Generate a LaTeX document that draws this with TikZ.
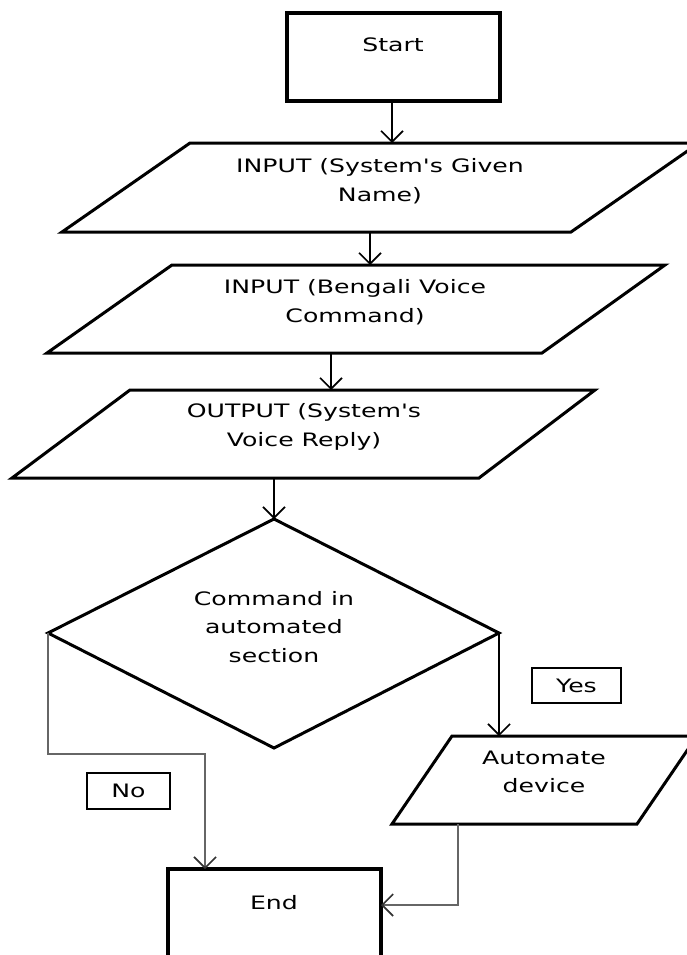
\documentclass[tikz,border=0pt]{standalone}
\usepackage{fontspec}
\setmainfont{DejaVu Sans}[FakeStretch=1.36, Ligatures=TeXOff]
\usetikzlibrary{arrows.meta}
\begin{document}
\begin{tikzpicture}[x=1pt,y=-1pt,
  shapeline/.style={draw=black, line width=3pt, line join=miter},
  termline/.style={draw=black, line width=4pt},
  flow/.style={draw=black, line width=1.9pt,
    -{Straight Barb[length=11pt,width=22pt,line width=1.6pt]}},
  branch/.style={draw=black!60, line width=2.5pt,
    -{Straight Barb[length=11pt,width=22pt,line width=1.6pt,black!80]}},
  lbl/.style={font=\fontsize{18.5}{28.5}\selectfont, align=center,
    inner sep=0pt, text=black},
  tagbox/.style={draw=black, line width=2pt, inner sep=0pt,
    font=\fontsize{18.5}{28.5}\selectfont}
]
\useasboundingbox (0,0) rectangle (687,955);
\clip (0,0) rectangle (687,955);

% Start terminal
\draw[termline] (287,13) rectangle (500,101);
\node[lbl] (start) at (393,45) {Start};
\coordinate (startout) at (392,101);

% Input: system name
\coordinate (p1in) at (392,143);
\draw[shapeline] (190,143) -- (699,143) -- (571,232) -- (62,232) -- cycle;
\node[lbl] (name) at (380,181) {INPUT (System's Given\\Name)};
\coordinate (p1out) at (370,232);

% Input: voice command
\coordinate (p2in) at (370,265);
\draw[shapeline] (172,265) -- (665,265) -- (542,353) -- (47,353) -- cycle;
\node[lbl] (cmd) at (355,302) {INPUT (Bengali Voice\\Command)};
\coordinate (p2out) at (331,353);

% Output: voice reply
\coordinate (p3in) at (331,390);
\draw[shapeline] (130,390) -- (595,390) -- (479,478) -- (12,478) -- cycle;
\node[lbl] (reply) at (304,427) {OUTPUT (System's\\Voice Reply)};
\coordinate (p3out) at (274,478);

% Decision
\coordinate (dtop) at (274,519);
\coordinate (dright) at (499,633);
\coordinate (dbottom) at (274,748);
\coordinate (dleft) at (48,633);
\draw[shapeline] (dtop) -- (dright) -- (dbottom) -- (dleft) -- cycle;
\node[lbl] (decide) at (274,627) {Command in\\automated\\section};

% Automate device
\coordinate (p4in) at (499,736);
\draw[shapeline] (452,736) -- (697,736) -- (637,824) -- (392,824) -- cycle;
\node[lbl] (auto) at (544,772) {Automate\\device};
\coordinate (p4out) at (458,824);

% End terminal
\draw[termline] (168,869) rectangle (381,980);
\node[lbl] (end) at (274,903) {End};
\coordinate (endtop) at (205,869);
\coordinate (endright) at (381,905);

% Branch labels
\node[tagbox, minimum width=83pt, minimum height=36pt] (no) at (128.5,791) {No};
\node[tagbox, minimum width=89pt, minimum height=35pt] (yes) at (576.5,685.5) {Yes};

% Connectors
\draw[flow] (startout) -- (p1in);
\draw[flow] (p1out) -- (p2in);
\draw[flow] (p2out) -- (p3in);
\draw[flow] (p3out) -- (dtop);
\draw[flow] (dright) -- (p4in);
\draw[branch] (dleft) -- (48,754) -| (endtop);
\draw[branch] (p4out) |- (endright);
\end{tikzpicture}
\end{document}
